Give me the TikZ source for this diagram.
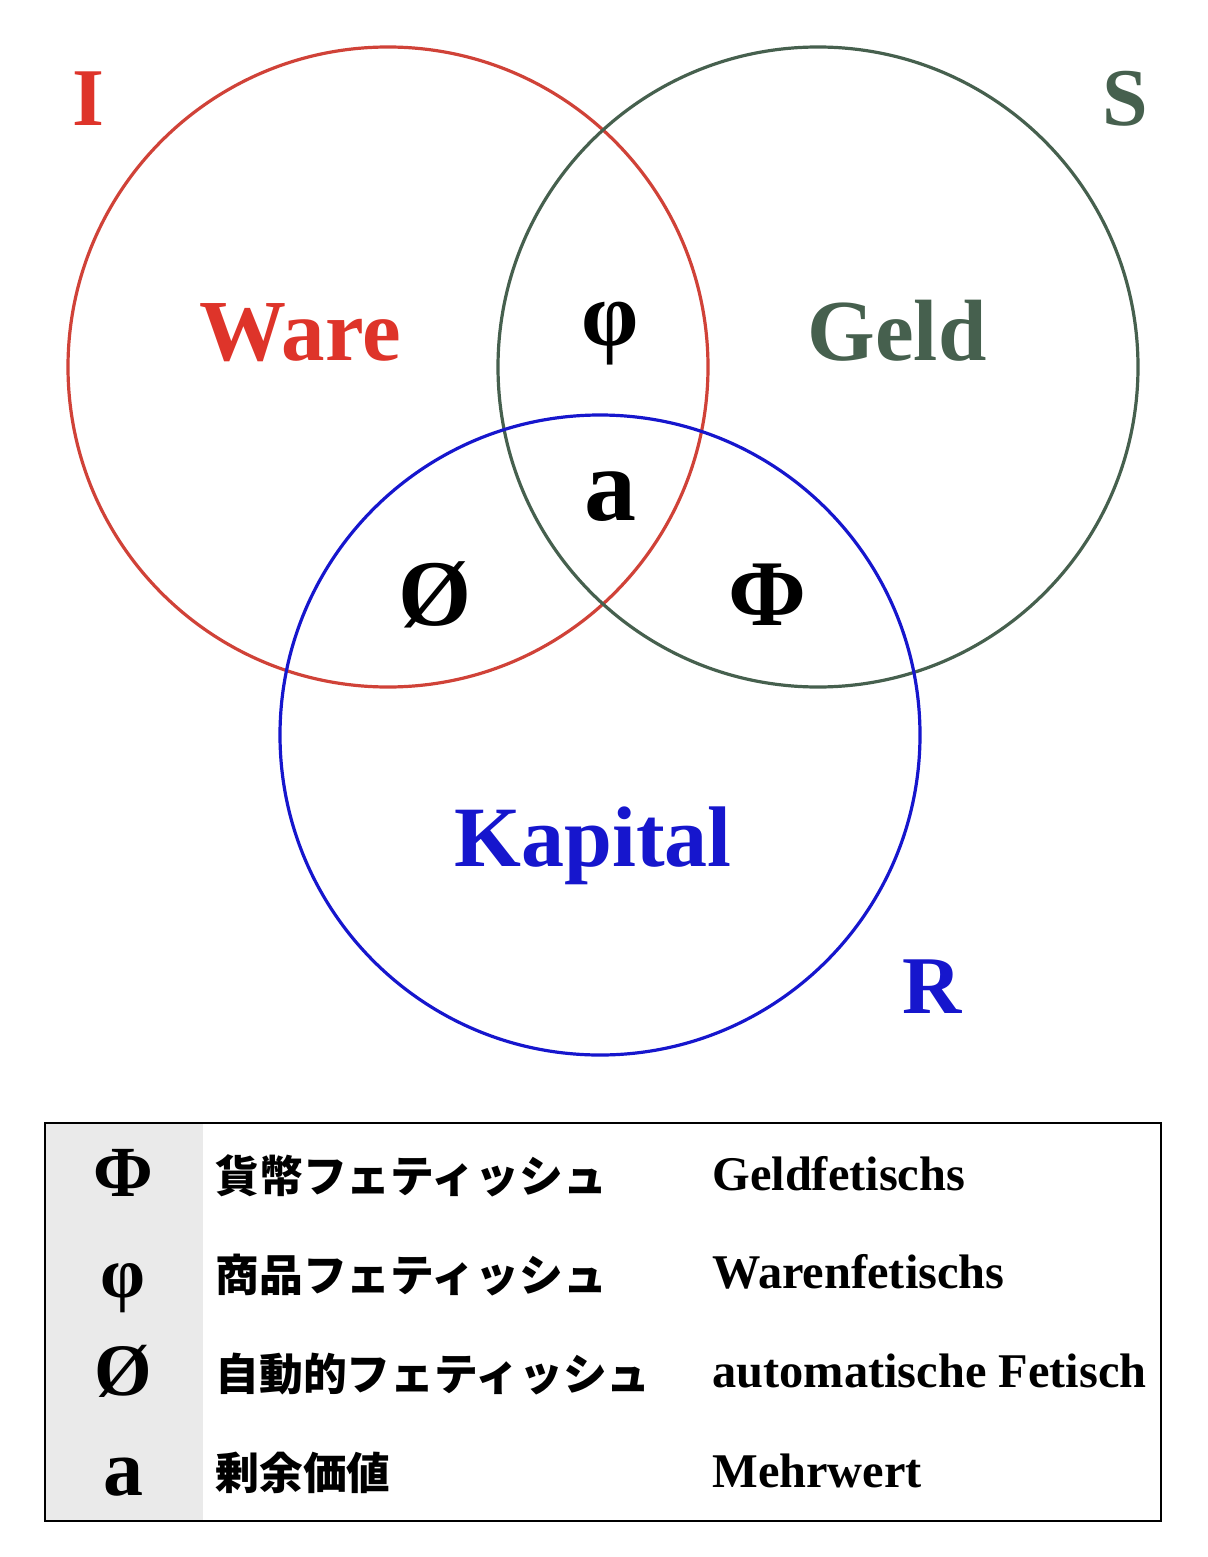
\documentclass[tikz,border=0pt]{standalone}
\usepackage{fontspec}
\setmainfont{Liberation Serif}
\newfontfamily\jpfont{Noto Sans CJK JP}
\begin{document}
\begin{tikzpicture}[x=0.5pt, y=-0.5pt, font=\bfseries, every node/.style={inner sep=0pt}]
    % circle and text colours
    \definecolor{wareRed}{RGB}{208,66,56}
    \definecolor{wareText}{RGB}{222,52,42}
    \definecolor{geldGreen}{RGB}{70,96,78}
    \definecolor{kapBlue}{RGB}{22,22,205}
    \definecolor{keyGray}{RGB}{234,234,234}

    \useasboundingbox (0,0) rectangle (1208,1557);

    % Three sets: radius 320 each
    %   I (Ware)    centre (388,367)
    %   S (Geld)    centre (818,367)
    %   R (Kapital) centre (600,735)
    \draw[wareRed,   line width=1.6pt] (388,367) circle (320);
    \draw[geldGreen, line width=1.6pt] (818,367) circle (320);
    \draw[kapBlue,   line width=1.6pt] (600,735) circle (320);

    % Set letters at the corners
    \node[anchor=base, text=wareText,  font=\bfseries\fontsize{41}{41}\selectfont] (setI) at (88,126)   {I};
    \node[anchor=base, text=geldGreen, font=\bfseries\fontsize{41}{41}\selectfont] (setS) at (1125,126) {S};
    \node[anchor=base, text=kapBlue,   font=\bfseries\fontsize{41}{41}\selectfont] (setR) at (932,1013) {R};

    % Region names
    \node[anchor=base, text=wareText,  font=\bfseries\fontsize{43.5}{43.5}\selectfont] (ware)    at (300,360) {Ware};
    \node[anchor=base, text=geldGreen, font=\bfseries\fontsize{43.5}{43.5}\selectfont] (geld)    at (897,360) {Geld};
    \node[anchor=base, text=kapBlue,   font=\bfseries\fontsize{43}{43}\selectfont]     (kapital) at (593,866) {Kapital};

    % Intersections
    \node[anchor=base, font=\bfseries\fontsize{46}{46}\selectfont] (phiSmall) at (610,345) {φ};
    \node[anchor=base, font=\bfseries\fontsize{52}{52}\selectfont] (surplus)  at (610,520) {a};
    \node[anchor=base, font=\bfseries\fontsize{47}{47}\selectfont] (oslash)   at (435,625) {Ø};
    \node[anchor=base, font=\bfseries\fontsize{47}{47}\selectfont] (phiBig)   at (767,625) {Φ};

    % Key table
    \fill[keyGray] (45,1123) rectangle (203,1521);
    \draw[black, line width=1pt] (45,1123) rectangle (1161,1521);

    \node[anchor=base, font=\bfseries\fontsize{36}{36}\selectfont] (keyPhiBig)   at (123,1196) {Φ};
    \node[anchor=base, font=\bfseries\fontsize{36}{36}\selectfont] (keyPhiSmall) at (123,1297) {φ};
    \node[anchor=base, font=\bfseries\fontsize{37}{37}\selectfont] (keyOslash)   at (123,1395) {Ø};
    \node[anchor=base, font=\bfseries\fontsize{40}{40}\selectfont] (keySurplus)  at (123,1495) {a};

    \node[anchor=west, font=\jpfont\bfseries\fontsize{21.9}{21.9}\selectfont] (jpGeld)    at (215,1176) {貨幣フェティッシュ};
    \node[anchor=west, font=\jpfont\bfseries\fontsize{21.9}{21.9}\selectfont] (jpWare)    at (215,1275) {商品フェティッシュ};
    \node[anchor=west, font=\jpfont\bfseries\fontsize{21.9}{21.9}\selectfont] (jpAuto)    at (215,1374) {自動的フェティッシュ};
    \node[anchor=west, font=\jpfont\bfseries\fontsize{21.9}{21.9}\selectfont] (jpSurplus) at (215,1473) {剰余価値};

    \node[anchor=base west, font=\bfseries\fontsize{24.2}{24.2}\selectfont] (deGeld)    at (712,1190) {Geldfetischs};
    \node[anchor=base west, font=\bfseries\fontsize{24.2}{24.2}\selectfont] (deWare)    at (712,1288) {Warenfetischs};
    \node[anchor=base west, font=\bfseries\fontsize{24.2}{24.2}\selectfont] (deAuto)    at (712,1387) {automatische Fetisch};
    \node[anchor=base west, font=\bfseries\fontsize{24.2}{24.2}\selectfont] (deSurplus) at (712,1487) {Mehrwert};
\end{tikzpicture}
\end{document}
